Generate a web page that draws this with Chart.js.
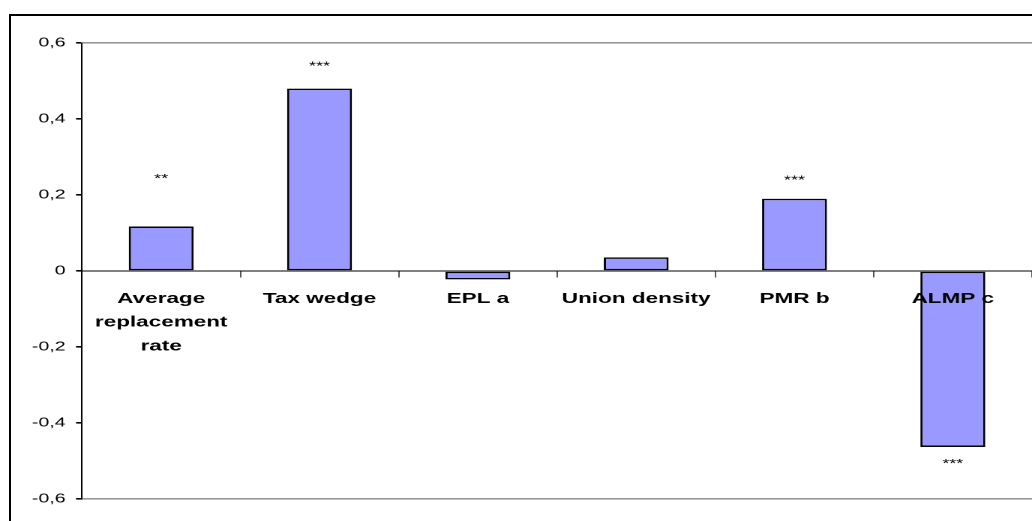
<!DOCTYPE html>
<html>
<head>
<meta charset="utf-8">
<script src="https://cdn.jsdelivr.net/npm/chart.js@4"></script>
<style>
  html, body { margin: 0; padding: 0; background: #fff; overflow: hidden; }
  body { position: relative; width: 1032px; height: 521px; }
  /* the original figure is a stretched Excel chart: draw at 688px and widen it */
  #wrap { position: absolute; left: 0; top: 0; width: 688px; height: 521px; transform: scaleX(1.5); transform-origin: 0 0; }
  #frame { position: absolute; left: 9px; top: 14px; right: -20px; bottom: -20px; border-top: 2px solid #000; border-left: 2px solid #000; pointer-events: none; }
</style>
</head>
<body>
<div id="wrap"><canvas id="chart"></canvas></div>
<div id="frame"></div>
<script>
"use strict";

const CATEGORIES = [["Average", "replacement", "rate"], "Tax wedge", "EPL a", "Union density", "PMR b", "ALMP c"];
const VALUES = [0.117, 0.48, -0.022, 0.036, 0.19, -0.463];
const STARS = ["**", "***", "", "", "***", "***"];
const STAR_AT = [0.25, 0.545, null, null, 0.245, -0.5];
const Y_TICKS = [-0.6, -0.4, -0.2, 0, 0.2, 0.4, 0.6];

const FONT = "'Liberation Sans', Arial, sans-serif";

const starPlugin = {
  id: "stars",
  afterDatasetsDraw(chart) {
    const ctx = chart.ctx;
    const meta = chart.getDatasetMeta(0);
    const y = chart.scales.y;
    ctx.save();
    ctx.fillStyle = "#000";
    ctx.font = "12px " + FONT;
    ctx.textAlign = "center";
    ctx.textBaseline = "middle";
    STARS.forEach((s, i) => {
      if (!s) return;
      ctx.fillText(s, meta.data[i].x, y.getPixelForValue(STAR_AT[i]) + 3);
    });
    ctx.restore();
  },
};

function formatTick(v) {
  const r = Math.round(v * 10) / 10;
  return r === 0 ? "0" : String(r).replace(".", ",");
}

new Chart(document.getElementById("chart"), {
  type: "bar",
  data: {
    labels: CATEGORIES,
    datasets: [{
      data: VALUES,
      backgroundColor: "#9999ff",
      borderColor: "#000",
      borderWidth: 1.5,
      borderSkipped: false,
      barPercentage: 1,
      categoryPercentage: 0.41,
    }],
  },
  options: {
    responsive: true,
    maintainAspectRatio: false,
    devicePixelRatio: 2,
    animation: false,
    layout: { padding: { left: 0, right: 0, top: 43, bottom: 22 } },
    plugins: { legend: { display: false }, tooltip: { enabled: false } },
    scales: {
      x: {
        type: "category",
        position: { y: 0 },
        offset: true,
        grid: { offset: true, drawOnChartArea: false, drawTicks: true, tickLength: 6, tickColor: "#555", lineWidth: 1 },
        border: { display: true, color: "#000", width: 1, z: 1 },
        ticks: {
          z: 1,
          autoSkip: false,
          maxRotation: 0,
          color: "#000",
          padding: 10,
          font: { family: FONT, size: 15, weight: "bold", lineHeight: 1.58 },
        },
      },
      y: {
        min: -0.6,
        max: 0.6,
        afterFit: s => { s.width = 54.7; },
        afterBuildTicks: s => { s.ticks = Y_TICKS.map(v => ({ value: v })); },
        grid: {
          drawTicks: true,
          tickLength: 4,
          tickColor: "#000",
          color: c => (Math.abs(Math.abs(c.tick.value) - 0.6) < 1e-6 ? "#999" : "rgba(0,0,0,0)"),
          lineWidth: 1.6,
        },
        border: { display: true, color: "#000", width: 1 },
        ticks: {
          color: "#000",
          padding: 7,
          font: { family: FONT, size: 13 },
          callback: v => formatTick(v),
        },
      },
    },
  },
  plugins: [starPlugin],
});
</script>
</body>
</html>
